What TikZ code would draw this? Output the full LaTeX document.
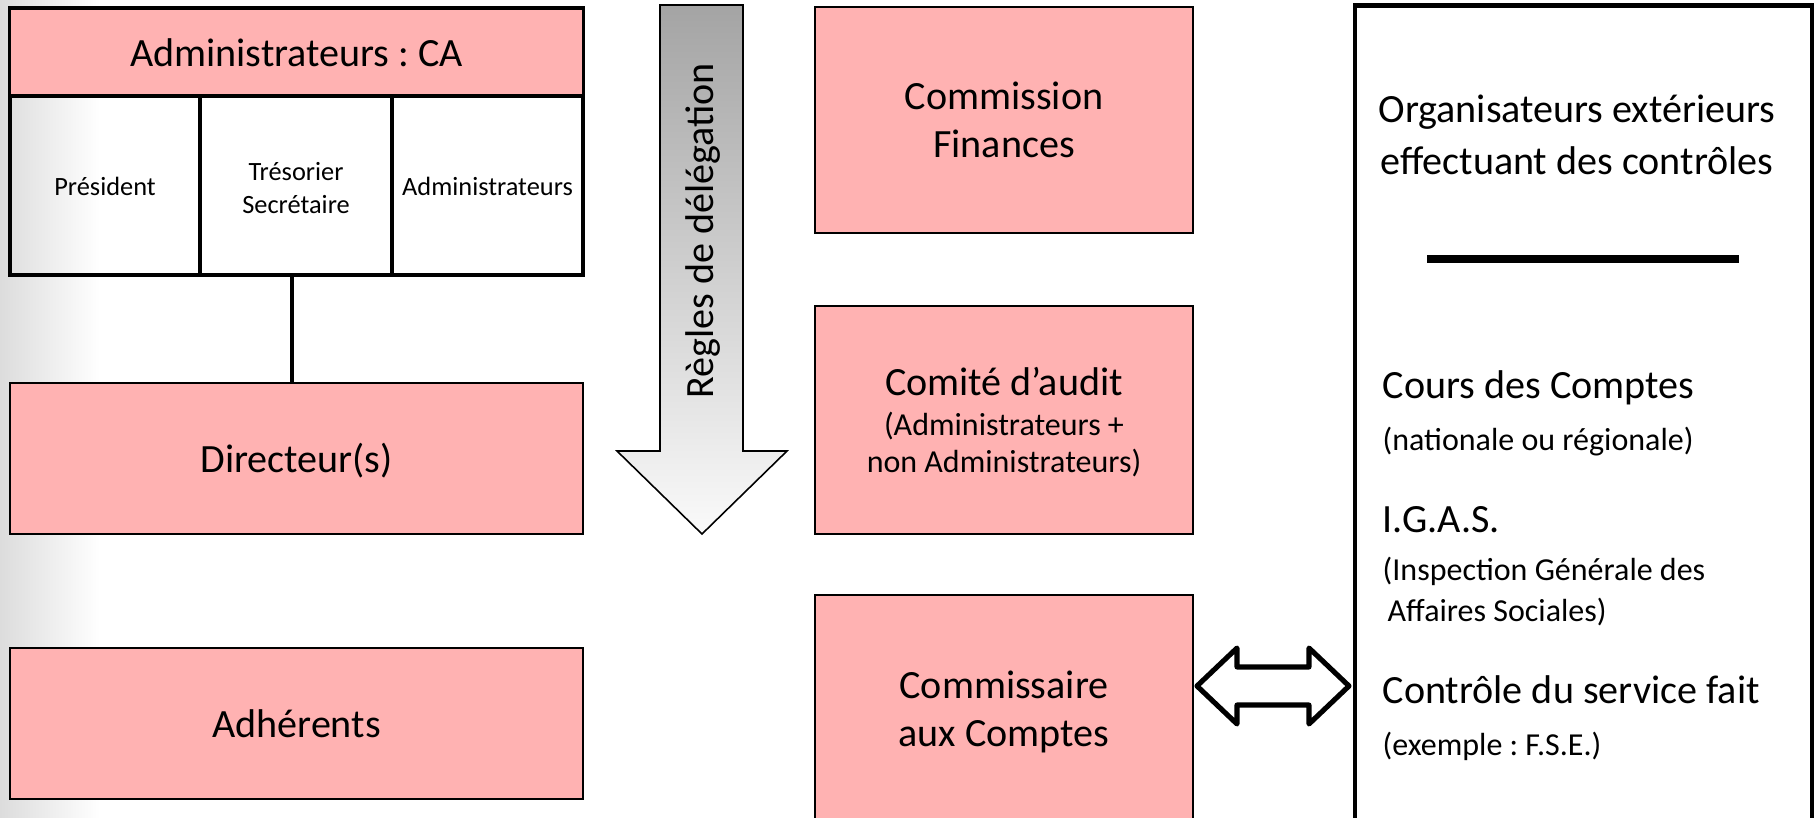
\documentclass[tikz,border=0pt]{standalone}
\usepackage{fontspec}
\setmainfont{Carlito}
\usetikzlibrary{calc}
\frenchspacing
\definecolor{boxpink}{RGB}{255,178,178}
\definecolor{arrtop}{RGB}{164,164,164}
\definecolor{arrbot}{RGB}{250,250,250}
\definecolor{bgl}{RGB}{220,220,220}
\begin{document}
\begin{tikzpicture}[x=0.01cm,y=-0.01cm,
  pinkbox/.style={draw=black,fill=boxpink,line width=0.6pt,inner sep=0pt,rectangle},
  tblbox/.style={draw=black,line width=0.9pt,inner sep=0pt,rectangle},
  txt/.style={inner sep=0pt,anchor=base},
  ltxt/.style={inner sep=0pt,anchor=base west},
  bigf/.style={font=\fontsize{11.4pt}{13.7pt}\selectfont},
  smallf/.style={font=\fontsize{9.1pt}{11pt}\selectfont},
  subf/.style={font=\fontsize{7.5pt}{9pt}\selectfont}]
\fill[white] (0,0) rectangle (1820,818);
\useasboundingbox (0,0) rectangle (1820,818);
\shade[left color=bgl,right color=white] (0,0) rectangle (100,818);

% left column
\node[pinkbox,tblbox,fill=boxpink,minimum width=5.73cm,minimum height=0.88cm] (ca) at (296.5,52) {};
\node[tblbox,minimum width=1.90cm,minimum height=1.79cm] (pres) at (105,185.5) {};
\node[tblbox,minimum width=1.92cm,minimum height=1.79cm] (secr) at (296,185.5) {};
\node[tblbox,minimum width=1.91cm,minimum height=1.79cm] (adm) at (487.5,185.5) {};
\node[pinkbox,minimum width=5.73cm,minimum height=1.51cm] (dir) at (296.5,458.5) {};
\node[pinkbox,minimum width=5.73cm,minimum height=1.51cm] (adh) at (296.5,723.5) {};
\coordinate (cTop) at ($(secr.south)+(-4,0)$);
\draw[line width=1.4pt] (cTop) -- (cTop |- dir.north);

\node[txt,bigf] (tca) at (296.5,67) {Administrateurs : CA};
\node[txt,subf] (tpres) at (105,195) {Président};
\node[txt,subf] (ttres) at (296,180) {Trésorier};
\node[txt,subf] (tsecr) at (296,213) {Secrétaire};
\node[txt,subf] (tadm) at (487.5,195) {Administrateurs};
\node[txt,bigf] (tdir) at (296.5,472) {Directeur(s)};
\node[txt,bigf] (tadh) at (296.5,737) {Adhérents};

% delegation arrow
\shade[top color=arrtop,bottom color=arrbot,draw=black,line width=0.45pt,line join=miter]
  (660,5) -- (743,5) -- (743,451) -- (787,451) -- (702,534) -- (617,451) -- (660,451) -- cycle;
\node[bigf,rotate=90,inner sep=0pt] (regles) at (703,231) {Règles de délégation};

% middle column
\node[pinkbox,minimum width=3.78cm,minimum height=2.26cm] (fin) at (1004,120) {};
\node[pinkbox,minimum width=3.78cm,minimum height=2.28cm] (aud) at (1004,420) {};
\node[pinkbox,minimum width=3.78cm,minimum height=2.55cm] (cac) at (1004,722.5) {};
\node[txt,bigf] (tfin1) at (1004,110) {Commission};
\node[txt,bigf] (tfin2) at (1004,157) {Finances};
\node[txt,bigf] (taud1) at (1004,395) {Comité d’audit};
\node[txt,smallf] (taud2) at (1004,435) {(Administrateurs +};
\node[txt,smallf] (taud3) at (1004,472) {non Administrateurs)};
\node[txt,bigf] (tcac1) at (1004,698) {Commissaire};
\node[txt,bigf] (tcac2) at (1004,746) {aux Comptes};

% right box
\node[draw=black,line width=1.3pt,fill=white,inner sep=0pt,minimum width=4.57cm,minimum height=8.44cm] (ext) at (1583.5,428) {};
\coordinate (sepL) at (1427,259);
\coordinate (sepR) at (1739,259);
\draw[line width=2pt] (sepL) -- (sepR);
\node[txt,bigf] (torg1) at (1577,123) {Organisateurs extérieurs};
\node[txt,bigf] (torg2) at (1577,174) {effectuant des contrôles};
\node[ltxt,bigf] (tcour) at (1382,398) {Cours des Comptes};
\node[ltxt,smallf] (tnat) at (1382,450) {(nationale ou régionale)};
\node[ltxt,bigf] (tigas) at (1382,532) {I.G.A.S.};
\node[ltxt,smallf] (tinsp) at (1382,580) {(Inspection Générale des};
\node[ltxt,smallf] (taff) at (1387,621) {Affaires Sociales)};
\node[ltxt,bigf] (tctrl) at (1382,703) {Contrôle du service fait};
\node[ltxt,smallf] (tex) at (1382,755) {(exemple : F.S.E.)};

% double arrow between cac and ext
\draw[line width=1.45pt,line join=round,fill=white]
  (1197,686) -- (1237,648) -- (1237,667) -- (1309,667) -- (1309,648) -- (1349,686)
  -- (1309,724) -- (1309,705) -- (1237,705) -- (1237,724) -- cycle;
\end{tikzpicture}
\end{document}
